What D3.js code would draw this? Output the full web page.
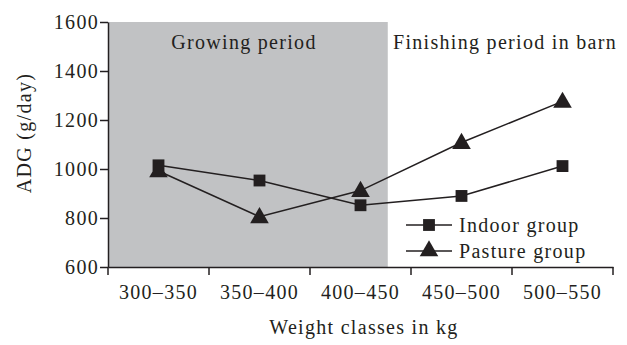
<!DOCTYPE html>
<html>
<head>
<meta charset="utf-8">
<script src="https://cdn.jsdelivr.net/npm/d3@7"></script>
<style>
  body { margin: 0; background: #fff; }
  svg text { font-family: 'Liberation Serif', 'DejaVu Serif', serif; fill: #231f20; letter-spacing: 1.3px; }
</style>
</head>
<body>
<div id="chart"></div>
<script>
const categories = ['300–350', '350–400', '400–450', '450–500', '500–550']
const indoor = [1015, 953, 852, 890, 1012]
const pasture = [992, 805, 912, 1108, 1276]
const yTicks = [600, 800, 1000, 1200, 1400, 1600]
const growingEnd = 2.77 // gray region ends inside 400–450 band (band units)

const width = 627
const height = 345
const margin = { left: 108, top: 22, right: 14, bottom: 78 }
const fs = '20px'

const svg = d3.select('#chart')
  .append('svg')
  .attr('width', width)
  .attr('height', height)

const x = d3.scaleBand().domain(categories).range([margin.left, width - margin.right])
const y = d3.scaleLinear().domain([600, 1600]).range([height - margin.bottom, margin.top])
const bandPos = d3.scaleLinear().domain([0, categories.length]).range(x.range())

// shaded growing period
svg.append('rect')
  .attr('x', bandPos(0))
  .attr('y', y(1600))
  .attr('width', bandPos(growingEnd) - bandPos(0))
  .attr('height', y(600) - y(1600))
  .style('fill', '#c1c2c4')

svg.append('text')
  .attr('x', 244)
  .attr('y', 49)
  .attr('text-anchor', 'middle')
  .style('font-size', fs)
  .text('Growing period')

svg.append('text')
  .attr('x', 505)
  .attr('y', 49)
  .attr('text-anchor', 'middle')
  .style('font-size', fs)
  .text('Finishing period in barn')

// axes
const xAxis = d3.axisBottom(x).tickSize(0).tickSizeOuter(0)
const xg = svg.append('g')
  .attr('transform', `translate(0, ${y(600)})`)
  .call(xAxis)
xg.selectAll('text').attr('dy', '1.45em').style('font-size', fs)
xg.select('.domain').style('stroke', '#231f20').style('stroke-width', 1.5)
xg.selectAll('.bound')
  .data(d3.range(categories.length + 1))
  .enter()
  .append('line')
  .attr('x1', d => bandPos(d))
  .attr('x2', d => bandPos(d))
  .attr('y1', 0)
  .attr('y2', 8)
  .style('stroke', '#231f20')
  .style('stroke-width', 1.5)

const yAxis = d3.axisLeft(y).tickValues(yTicks).tickFormat(d3.format('d'))
  .tickSize(8).tickSizeOuter(0).tickPadding(1)
const yg = svg.append('g')
  .attr('transform', `translate(${margin.left}, 0)`)
  .call(yAxis)
yg.selectAll('text').style('font-size', fs)
yg.selectAll('line, .domain').style('stroke', '#231f20').style('stroke-width', 1.5)

svg.append('text')
  .attr('transform', `translate(31, 133) rotate(-90)`)
  .attr('text-anchor', 'middle')
  .style('font-size', fs)
  .text('ADG (g/day)')

svg.append('text')
  .attr('x', 364)
  .attr('y', 334)
  .attr('text-anchor', 'middle')
  .style('font-size', fs)
  .text('Weight classes in kg')

// lines and markers
const cx = d => x(d) + x.bandwidth() / 2
const line = d3.line().x((d, i) => cx(categories[i])).y(d => y(d))

svg.append('path').datum(indoor).attr('d', line)
  .style('fill', 'none').style('stroke', '#231f20').style('stroke-width', 1.5)
svg.append('path').datum(pasture).attr('d', line)
  .style('fill', 'none').style('stroke', '#231f20').style('stroke-width', 1.5)

const square = d3.symbol().type(d3.symbolSquare).size(140)
const triangle = d3.symbol().type(d3.symbolTriangle).size(150)

svg.selectAll('path.sq').data(indoor).enter()
  .append('path').classed('sq', true)
  .attr('d', square)
  .attr('transform', (d, i) => `translate(${cx(categories[i])}, ${y(d)})`)
  .style('fill', '#231f20')

svg.selectAll('path.tri').data(pasture).enter()
  .append('path').classed('tri', true)
  .attr('d', triangle)
  .attr('transform', (d, i) => `translate(${cx(categories[i])}, ${y(d) + 1})`)
  .style('fill', '#231f20')

// legend
const legend = [
  { name: 'Indoor group', sym: square, dy: 225 },
  { name: 'Pasture group', sym: triangle, dy: 251 }
]
const lg = svg.selectAll('g.legend').data(legend).enter()
  .append('g').classed('legend', true)
  .attr('transform', d => `translate(406, ${d.dy})`)
lg.append('line')
  .attr('x1', 0).attr('x2', 46)
  .style('stroke', '#231f20').style('stroke-width', 1.5)
lg.append('path')
  .attr('d', d => d.sym())
  .attr('transform', 'translate(23, 0)')
  .style('fill', '#231f20')
lg.append('text')
  .attr('x', 53)
  .attr('dy', '0.35em')
  .style('font-size', fs)
  .text(d => d.name)
</script>
</body>
</html>
